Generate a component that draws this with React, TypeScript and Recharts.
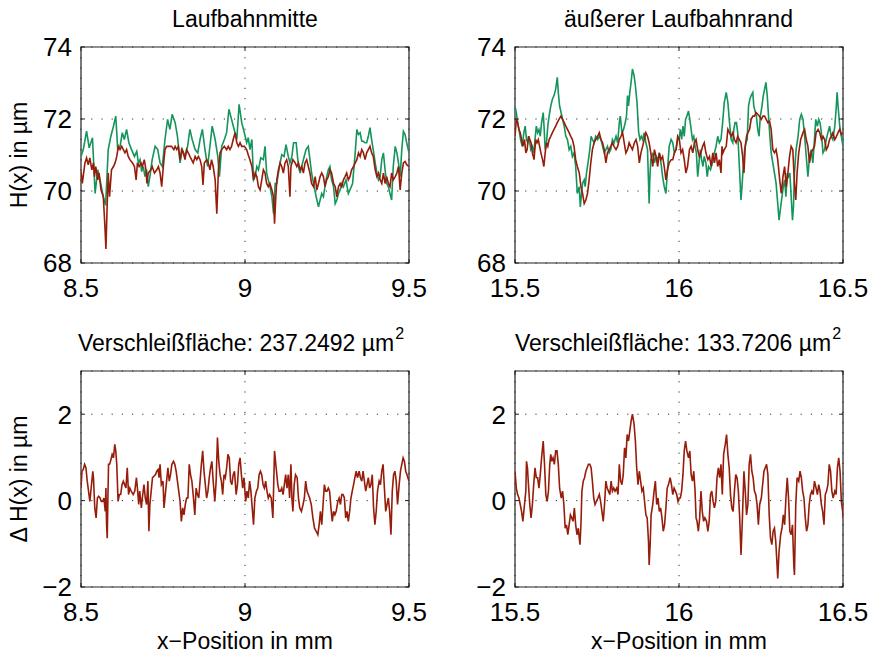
import React from "react";
import { LineChart, Line, XAxis, YAxis, CartesianGrid, ReferenceArea } from "recharts";

type Pt = [number, number];

// [x-Position in mm, H(x) in µm] – green: reference profile, red: worn profile
const midRef: Pt[] = [
  [8.5, 70.96], [8.507, 71.15], [8.517, 71.66], [8.525, 71.2], [8.535, 71.48], [8.543, 69.93], [8.551, 70.59], [8.558, 70.31],
  [8.568, 69.84], [8.575, 69.6], [8.583, 71.15], [8.591, 71.52], [8.599, 71.8], [8.606, 72.08], [8.612, 71.15], [8.619, 71.24],
  [8.626, 71.62], [8.632, 71.43], [8.639, 71.71], [8.646, 71.34], [8.654, 71.15], [8.663, 70.96], [8.67, 71.1], [8.675, 70.78],
  [8.68, 70.87], [8.685, 70.54], [8.69, 70.68], [8.695, 70.4], [8.7, 70.59], [8.705, 70.12], [8.71, 70.4], [8.717, 70.87],
  [8.726, 71.24], [8.734, 71.15], [8.741, 70.78], [8.748, 70.68], [8.756, 71.43], [8.764, 71.99], [8.771, 71.71], [8.778, 72.13],
  [8.787, 71.9], [8.794, 71.52], [8.802, 70.78], [8.809, 71.15], [8.817, 70.96], [8.825, 71.24], [8.832, 71.71], [8.839, 71.43],
  [8.848, 71.15], [8.856, 71.06], [8.863, 71.43], [8.87, 71.71], [8.878, 71.15], [8.886, 70.68], [8.893, 71.24], [8.9, 71.8],
  [8.909, 71.43], [8.917, 70.96], [8.922, 70.4], [8.929, 71.24], [8.937, 71.43], [8.944, 71.62], [8.951, 72.27], [8.959, 71.99],
  [8.967, 71.71], [8.975, 71.43], [8.982, 72.41], [8.99, 71.9], [8.998, 71.62], [9.005, 71.34], [9.01, 71.48], [9.015, 71.15],
  [9.021, 71.43], [9.026, 70.31], [9.031, 70.4], [9.036, 70.68], [9.041, 70.59], [9.048, 70.92], [9.056, 70.87], [9.061, 71.24],
  [9.066, 70.5], [9.071, 70.31], [9.076, 70.12], [9.082, 69.84], [9.087, 69.37], [9.092, 70.21], [9.097, 70.21], [9.105, 70.68],
  [9.112, 71.01], [9.119, 70.96], [9.125, 71.29], [9.132, 70.96], [9.137, 70.78], [9.143, 70.96], [9.148, 71.34], [9.156, 71.34],
  [9.163, 70.68], [9.168, 70.5], [9.178, 70.87], [9.186, 71.15], [9.193, 71.24], [9.198, 70.87], [9.203, 70.5], [9.209, 70.21],
  [9.217, 69.84], [9.224, 69.56], [9.229, 69.75], [9.234, 69.93], [9.239, 69.84], [9.247, 70.31], [9.254, 70.59], [9.259, 70.68],
  [9.264, 70.31], [9.27, 70.12], [9.275, 69.65], [9.28, 69.75], [9.285, 69.93], [9.29, 70.03], [9.295, 70.21], [9.3, 70.12],
  [9.308, 70.31], [9.315, 69.93], [9.32, 70.03], [9.328, 70.21], [9.336, 71.06], [9.341, 71.71], [9.346, 71.57], [9.351, 71.62],
  [9.356, 71.38], [9.361, 71.38], [9.366, 71.34], [9.371, 71.34], [9.376, 71.52], [9.381, 71.76], [9.386, 71.43], [9.391, 71.15],
  [9.397, 70.78], [9.402, 70.5], [9.407, 70.31], [9.412, 70.4], [9.417, 70.87], [9.422, 71.06], [9.427, 70.59], [9.432, 70.21],
  [9.437, 70.12], [9.442, 69.93], [9.447, 69.75], [9.452, 70.68], [9.458, 71.24], [9.463, 71.06], [9.468, 70.78], [9.473, 70.4],
  [9.478, 71.15], [9.483, 71.66], [9.488, 71.57], [9.493, 71.34], [9.5, 71.06],
];

const midWorn: Pt[] = [
  [8.5, 70.54], [8.504, 70.21], [8.512, 70.78], [8.517, 70.92], [8.522, 70.73], [8.527, 70.92], [8.533, 70.59], [8.538, 70.78],
  [8.541, 70.4], [8.545, 70.68], [8.551, 70.31], [8.555, 70.5], [8.561, 70.03], [8.568, 69.84], [8.573, 69.0], [8.576, 68.39],
  [8.579, 69.37], [8.583, 70.5], [8.587, 69.84], [8.593, 70.59], [8.599, 70.68], [8.604, 70.78], [8.609, 70.96], [8.614, 71.24],
  [8.619, 71.15], [8.624, 71.24], [8.629, 71.15], [8.634, 71.06], [8.639, 71.15], [8.644, 70.96], [8.649, 70.87], [8.657, 70.78],
  [8.663, 70.68], [8.668, 70.31], [8.672, 70.78], [8.677, 70.68], [8.683, 70.78], [8.687, 70.68], [8.693, 70.87], [8.698, 70.59],
  [8.701, 70.21], [8.705, 70.5], [8.713, 70.59], [8.717, 70.68], [8.724, 70.5], [8.731, 70.59], [8.736, 70.68], [8.741, 70.5],
  [8.746, 70.12], [8.751, 70.68], [8.756, 71.15], [8.761, 71.24], [8.768, 71.24], [8.776, 71.24], [8.783, 71.15], [8.787, 71.24],
  [8.792, 71.15], [8.797, 71.24], [8.802, 70.87], [8.807, 71.15], [8.812, 71.06], [8.817, 70.87], [8.822, 71.15], [8.827, 71.06],
  [8.832, 70.96], [8.837, 70.87], [8.842, 70.78], [8.848, 70.96], [8.853, 70.87], [8.858, 70.96], [8.863, 70.87], [8.868, 70.68],
  [8.872, 70.17], [8.876, 70.78], [8.883, 70.87], [8.888, 70.78], [8.893, 70.59], [8.898, 70.87], [8.903, 70.68], [8.909, 70.31],
  [8.914, 69.37], [8.919, 70.59], [8.924, 71.06], [8.929, 71.15], [8.937, 71.24], [8.944, 71.15], [8.949, 71.24], [8.954, 71.15],
  [8.959, 71.24], [8.964, 71.43], [8.97, 71.62], [8.975, 71.34], [8.98, 71.24], [8.985, 71.34], [8.99, 71.24], [8.998, 71.24],
  [9.005, 71.15], [9.01, 71.0], [9.015, 70.87], [9.021, 70.68], [9.026, 70.31], [9.031, 70.5], [9.036, 70.4], [9.041, 70.12],
  [9.046, 70.03], [9.051, 70.31], [9.056, 70.59], [9.061, 70.5], [9.066, 70.21], [9.071, 70.12], [9.076, 70.21], [9.082, 70.03],
  [9.087, 69.84], [9.09, 69.09], [9.094, 69.84], [9.097, 70.31], [9.102, 70.59], [9.107, 70.78], [9.112, 70.68], [9.117, 70.5],
  [9.122, 70.78], [9.127, 70.87], [9.132, 70.68], [9.137, 69.84], [9.14, 70.68], [9.146, 70.87], [9.153, 70.78], [9.158, 70.68],
  [9.163, 70.78], [9.168, 70.59], [9.173, 70.68], [9.178, 70.5], [9.183, 70.78], [9.188, 70.87], [9.193, 70.68], [9.198, 70.5],
  [9.203, 70.21], [9.209, 70.12], [9.214, 70.4], [9.219, 70.03], [9.224, 70.21], [9.229, 70.4], [9.234, 70.5], [9.239, 70.4],
  [9.244, 70.12], [9.249, 70.31], [9.254, 70.4], [9.259, 70.59], [9.264, 70.5], [9.27, 70.21], [9.275, 70.12], [9.28, 69.84],
  [9.285, 70.12], [9.29, 70.21], [9.295, 70.12], [9.3, 70.31], [9.305, 70.4], [9.31, 70.5], [9.315, 70.31], [9.32, 70.4],
  [9.325, 70.59], [9.331, 70.68], [9.336, 70.78], [9.341, 70.87], [9.346, 71.06], [9.351, 70.96], [9.356, 71.15], [9.361, 71.06],
  [9.366, 70.87], [9.371, 71.06], [9.376, 71.15], [9.381, 71.24], [9.386, 71.06], [9.391, 70.96], [9.397, 70.59], [9.402, 70.4],
  [9.407, 70.5], [9.412, 70.31], [9.417, 70.21], [9.422, 70.5], [9.427, 70.21], [9.432, 70.4], [9.437, 70.21], [9.442, 70.12],
  [9.447, 70.5], [9.452, 70.31], [9.458, 70.4], [9.463, 70.5], [9.468, 70.68], [9.473, 70.03], [9.478, 70.5], [9.483, 70.78],
  [9.488, 70.82], [9.493, 70.73], [9.5, 70.68],
];

const edgeRef: Pt[] = [
  [15.5, 72.36], [15.504, 72.18], [15.508, 71.9], [15.512, 71.71], [15.517, 71.43], [15.522, 71.24], [15.527, 71.62], [15.531, 71.8],
  [15.535, 71.43], [15.539, 71.34], [15.543, 71.52], [15.548, 71.15], [15.553, 71.24], [15.558, 71.06], [15.561, 71.43], [15.565, 71.8],
  [15.569, 71.62], [15.573, 71.71], [15.577, 71.52], [15.581, 71.9], [15.586, 72.18], [15.589, 71.71], [15.592, 71.15], [15.596, 71.34],
  [15.6, 71.8], [15.604, 72.08], [15.609, 72.36], [15.614, 72.55], [15.619, 72.65], [15.624, 72.83], [15.629, 73.16], [15.632, 72.74],
  [15.636, 72.36], [15.643, 72.08], [15.65, 71.8], [15.655, 71.52], [15.66, 71.43], [15.665, 71.15], [15.67, 71.24], [15.675, 70.96],
  [15.68, 71.06], [15.685, 70.68], [15.69, 69.93], [15.696, 70.12], [15.699, 69.56], [15.702, 69.84], [15.706, 70.21], [15.711, 70.31],
  [15.714, 70.12], [15.718, 70.5], [15.724, 70.87], [15.728, 71.15], [15.732, 71.52], [15.736, 71.43], [15.741, 71.34], [15.746, 71.52],
  [15.752, 71.43], [15.757, 71.52], [15.762, 71.43], [15.767, 71.24], [15.772, 71.06], [15.777, 71.15], [15.782, 71.24], [15.787, 71.06],
  [15.792, 71.15], [15.797, 71.43], [15.802, 71.34], [15.808, 71.52], [15.813, 71.34], [15.818, 71.9], [15.821, 72.08], [15.826, 71.62],
  [15.831, 71.71], [15.836, 71.9], [15.84, 72.08], [15.843, 72.65], [15.846, 72.36], [15.85, 72.74], [15.854, 73.02], [15.858, 73.39],
  [15.863, 73.21], [15.867, 72.93], [15.872, 72.46], [15.877, 71.62], [15.881, 71.43], [15.885, 71.52], [15.889, 71.43], [15.894, 71.62],
  [15.899, 71.34], [15.904, 71.15], [15.909, 69.65], [15.911, 70.31], [15.914, 70.87], [15.92, 71.06], [15.925, 70.78], [15.93, 70.96],
  [15.935, 70.87], [15.94, 71.06], [15.945, 70.78], [15.95, 70.4], [15.955, 70.12], [15.96, 69.93], [15.965, 70.59], [15.97, 71.24],
  [15.976, 71.43], [15.981, 71.34], [15.986, 71.06], [15.991, 71.15], [15.996, 71.43], [16.0, 71.43], [16.004, 71.71], [16.008, 71.43],
  [16.012, 71.8], [16.016, 71.52], [16.02, 71.99], [16.024, 72.08], [16.029, 72.22], [16.033, 71.99], [16.037, 71.71], [16.041, 71.43],
  [16.045, 71.52], [16.049, 71.24], [16.053, 71.06], [16.057, 70.4], [16.061, 70.78], [16.065, 71.15], [16.069, 70.87], [16.073, 70.68],
  [16.077, 70.96], [16.082, 70.78], [16.086, 70.4], [16.09, 70.68], [16.096, 70.59], [16.102, 70.78], [16.108, 71.06], [16.113, 71.24],
  [16.118, 71.52], [16.123, 71.34], [16.128, 71.43], [16.133, 71.9], [16.138, 72.46], [16.144, 72.74], [16.149, 72.46], [16.154, 71.9],
  [16.159, 71.43], [16.164, 71.34], [16.167, 71.71], [16.171, 71.9], [16.175, 71.9], [16.179, 71.62], [16.184, 70.68], [16.189, 69.75],
  [16.192, 70.12], [16.196, 70.68], [16.2, 71.15], [16.204, 71.34], [16.208, 71.43], [16.212, 72.36], [16.216, 72.55], [16.22, 72.65],
  [16.225, 72.74], [16.228, 72.36], [16.232, 72.22], [16.236, 72.08], [16.24, 71.71], [16.244, 71.52], [16.248, 72.08], [16.253, 72.36],
  [16.257, 72.65], [16.261, 72.83], [16.265, 73.02], [16.269, 72.65], [16.273, 72.08], [16.277, 71.52], [16.281, 71.06], [16.286, 70.78],
  [16.291, 70.5], [16.296, 70.21], [16.301, 69.65], [16.305, 69.19], [16.31, 69.56], [16.314, 69.84], [16.318, 70.12], [16.322, 70.31],
  [16.326, 69.84], [16.33, 70.5], [16.334, 70.4], [16.338, 70.5], [16.342, 69.84], [16.346, 69.19], [16.349, 69.56], [16.352, 70.5],
  [16.357, 71.15], [16.363, 71.52], [16.368, 71.99], [16.373, 72.13], [16.378, 71.99], [16.383, 71.52], [16.388, 70.96], [16.393, 70.4],
  [16.398, 70.96], [16.403, 71.15], [16.408, 70.78], [16.413, 71.43], [16.417, 71.99], [16.422, 71.8], [16.426, 71.99], [16.43, 71.9],
  [16.434, 71.62], [16.439, 71.06], [16.444, 71.15], [16.449, 71.43], [16.454, 71.62], [16.459, 71.8], [16.464, 71.52], [16.469, 71.43],
  [16.475, 71.8], [16.479, 72.27], [16.482, 72.74], [16.485, 72.36], [16.49, 71.8], [16.495, 71.52], [16.5, 71.24],
];

const edgeWorn: Pt[] = [
  [15.5, 71.52], [15.504, 71.99], [15.508, 71.9], [15.512, 71.71], [15.516, 71.62], [15.52, 71.43], [15.524, 71.24], [15.529, 71.43],
  [15.533, 71.06], [15.537, 71.15], [15.541, 71.52], [15.545, 71.43], [15.549, 71.34], [15.553, 71.06], [15.558, 70.87], [15.563, 71.43],
  [15.567, 71.34], [15.571, 71.43], [15.575, 71.24], [15.579, 71.06], [15.584, 70.87], [15.588, 70.68], [15.592, 71.06], [15.596, 71.34],
  [15.6, 71.24], [15.604, 71.43], [15.609, 71.52], [15.614, 71.62], [15.619, 71.71], [15.624, 71.8], [15.629, 71.9], [15.634, 71.99],
  [15.64, 72.08], [15.645, 71.99], [15.65, 71.9], [15.655, 71.8], [15.66, 71.71], [15.665, 71.62], [15.67, 71.52], [15.675, 71.43],
  [15.68, 71.24], [15.685, 70.87], [15.69, 70.68], [15.696, 70.5], [15.701, 70.12], [15.706, 69.93], [15.711, 69.65], [15.716, 69.75],
  [15.721, 69.93], [15.726, 70.31], [15.731, 70.78], [15.736, 71.15], [15.741, 71.34], [15.746, 71.43], [15.752, 71.52], [15.757, 71.62],
  [15.762, 71.43], [15.767, 71.34], [15.772, 71.15], [15.777, 70.78], [15.782, 71.06], [15.787, 71.15], [15.792, 71.24], [15.797, 71.34],
  [15.802, 71.24], [15.808, 71.15], [15.813, 71.24], [15.818, 71.43], [15.823, 71.52], [15.828, 71.62], [15.833, 71.34], [15.838, 71.06],
  [15.843, 71.15], [15.848, 71.34], [15.853, 71.24], [15.858, 71.15], [15.864, 71.34], [15.869, 71.43], [15.874, 71.24], [15.879, 70.78],
  [15.884, 71.06], [15.889, 71.24], [15.894, 71.43], [15.899, 71.62], [15.904, 71.52], [15.909, 71.34], [15.914, 71.06], [15.92, 70.68],
  [15.925, 71.15], [15.93, 70.96], [15.935, 70.68], [15.94, 71.06], [15.945, 70.87], [15.95, 70.96], [15.955, 70.68], [15.96, 70.31],
  [15.965, 70.59], [15.97, 70.78], [15.976, 70.87], [15.981, 70.87], [15.986, 71.06], [15.991, 71.15], [15.996, 71.52], [16.001, 71.43],
  [16.006, 71.06], [16.011, 71.15], [16.016, 70.87], [16.021, 70.5], [16.026, 70.68], [16.032, 71.15], [16.037, 71.24], [16.042, 71.06],
  [16.047, 71.34], [16.052, 71.43], [16.057, 71.15], [16.062, 70.96], [16.067, 71.06], [16.072, 71.24], [16.077, 71.34], [16.082, 71.06],
  [16.088, 70.87], [16.093, 70.96], [16.098, 70.68], [16.103, 71.06], [16.108, 70.78], [16.113, 71.06], [16.118, 70.68], [16.123, 70.87],
  [16.128, 70.5], [16.131, 71.24], [16.134, 71.06], [16.138, 71.15], [16.144, 71.24], [16.149, 71.71], [16.154, 71.62], [16.159, 71.52],
  [16.164, 71.62], [16.169, 71.43], [16.174, 71.34], [16.179, 71.52], [16.184, 71.43], [16.189, 71.34], [16.194, 70.96], [16.198, 70.5],
  [16.202, 71.24], [16.206, 71.52], [16.21, 71.62], [16.215, 71.71], [16.22, 71.99], [16.225, 72.08], [16.23, 72.08], [16.235, 72.18],
  [16.24, 72.13], [16.245, 72.08], [16.251, 71.99], [16.256, 72.08], [16.261, 72.08], [16.266, 71.99], [16.271, 71.9], [16.276, 71.94],
  [16.281, 71.71], [16.286, 71.15], [16.291, 71.06], [16.296, 71.15], [16.301, 70.87], [16.307, 70.31], [16.312, 69.93], [16.317, 70.4],
  [16.322, 70.68], [16.327, 70.12], [16.332, 70.5], [16.337, 70.96], [16.342, 71.24], [16.347, 71.15], [16.352, 70.21], [16.356, 69.75],
  [16.36, 70.5], [16.365, 71.06], [16.371, 71.43], [16.378, 71.62], [16.383, 71.71], [16.388, 71.43], [16.393, 71.24], [16.398, 70.78],
  [16.403, 71.06], [16.408, 71.15], [16.413, 71.24], [16.418, 71.62], [16.424, 71.71], [16.429, 71.62], [16.434, 71.43], [16.439, 71.52],
  [16.444, 71.43], [16.449, 71.15], [16.454, 71.24], [16.459, 71.43], [16.464, 71.52], [16.469, 71.62], [16.475, 71.43], [16.48, 71.52],
  [16.485, 71.62], [16.49, 71.71], [16.495, 71.57], [16.5, 71.62],
];

// ΔH(x) in µm
const midDiff: Pt[] = [
  [8.5, 0.29], [8.503, 0.68], [8.507, 0.72], [8.511, 0.84], [8.515, 0.76], [8.519, 0.45], [8.523, 0.22], [8.527, -0.02],
  [8.532, 0.37], [8.536, 0.68], [8.538, 0.53], [8.542, -0.17], [8.546, -0.4], [8.55, 0.06], [8.554, 0.1], [8.558, 0.06],
  [8.562, -0.02], [8.566, -0.02], [8.57, 0.06], [8.574, -0.25], [8.576, 0.29], [8.578, -0.56], [8.58, -0.87], [8.582, 0.06],
  [8.584, 0.84], [8.587, 0.84], [8.59, 0.91], [8.595, 1.07], [8.599, 0.99], [8.603, 1.3], [8.606, 1.15], [8.609, 0.84],
  [8.613, -0.02], [8.617, 0.14], [8.621, 0.14], [8.625, 0.37], [8.629, 0.45], [8.633, 0.37], [8.637, 0.29], [8.641, 0.76],
  [8.645, 0.14], [8.649, 0.29], [8.653, 0.22], [8.659, 0.14], [8.664, 0.22], [8.669, 0.53], [8.672, 0.29], [8.676, -0.09],
  [8.679, 0.22], [8.684, -0.17], [8.687, 0.06], [8.692, 0.37], [8.696, 0.06], [8.7, -0.09], [8.704, 0.45], [8.707, -0.71],
  [8.71, -0.09], [8.714, 0.22], [8.718, 0.53], [8.723, 0.57], [8.727, 0.6], [8.731, 0.68], [8.735, 0.72], [8.738, 0.53],
  [8.741, 0.84], [8.745, 0.37], [8.75, 0.45], [8.753, -0.17], [8.757, 0.14], [8.761, 0.45], [8.765, 0.76], [8.769, 0.45],
  [8.773, 0.6], [8.777, 0.84], [8.782, 0.91], [8.786, 0.84], [8.79, 0.68], [8.794, 0.45], [8.798, 0.22], [8.802, -0.02],
  [8.806, -0.48], [8.81, -0.17], [8.814, -0.33], [8.818, -0.09], [8.822, 0.06], [8.826, 0.06], [8.83, 0.84], [8.834, 0.6],
  [8.838, 0.45], [8.842, 0.14], [8.847, -0.33], [8.851, 0.29], [8.855, 0.14], [8.859, 0.06], [8.863, 0.45], [8.867, 0.84],
  [8.871, 1.15], [8.875, 0.68], [8.879, 0.37], [8.883, 0.06], [8.887, 0.22], [8.891, 0.53], [8.895, 0.76], [8.899, 0.91],
  [8.903, 0.45], [8.908, -0.02], [8.912, 0.45], [8.916, 1.46], [8.92, 0.91], [8.924, 0.6], [8.928, 0.45], [8.932, 0.14],
  [8.936, 0.6], [8.94, 0.53], [8.944, 0.76], [8.948, 1.07], [8.952, 0.99], [8.956, 0.45], [8.96, 0.37], [8.964, 0.6],
  [8.968, 0.68], [8.973, 0.14], [8.977, 0.37], [8.981, 0.84], [8.985, 0.99], [8.989, 0.6], [8.993, 0.29], [8.997, 0.53],
  [9.002, -0.02], [9.006, 0.22], [9.01, 0.06], [9.014, 0.45], [9.018, 0.22], [9.022, -0.17], [9.026, -0.56], [9.03, 0.06],
  [9.035, 0.22], [9.039, 0.29], [9.043, 0.6], [9.047, 0.68], [9.051, 0.6], [9.055, 0.37], [9.059, 0.29], [9.063, 0.45],
  [9.067, 0.22], [9.071, 0.06], [9.075, 0.14], [9.08, 0.06], [9.085, -0.4], [9.09, 1.15], [9.096, 0.68], [9.1, 0.37],
  [9.104, 0.22], [9.108, 0.22], [9.112, 0.29], [9.116, 0.14], [9.12, 0.37], [9.124, 0.6], [9.128, 0.29], [9.132, 0.6],
  [9.136, 0.06], [9.14, 0.84], [9.143, 0.06], [9.146, -0.25], [9.15, 0.37], [9.154, 0.6], [9.159, 0.53], [9.163, 0.06],
  [9.167, -0.17], [9.172, -0.25], [9.177, -0.09], [9.181, 0.06], [9.185, 0.45], [9.189, 0.22], [9.193, 0.14], [9.197, 0.06],
  [9.202, -0.09], [9.207, -0.4], [9.212, -0.64], [9.217, -0.71], [9.222, -0.79], [9.226, -0.56], [9.23, -0.25], [9.234, -0.56],
  [9.238, -0.09], [9.242, 0.37], [9.246, 0.22], [9.25, 0.22], [9.254, 0.29], [9.258, 0.22], [9.262, -0.17], [9.266, -0.48],
  [9.27, -0.25], [9.274, -0.33], [9.278, -0.25], [9.283, -0.02], [9.287, 0.06], [9.291, -0.09], [9.295, 0.14], [9.299, 0.14],
  [9.303, 0.06], [9.307, -0.4], [9.311, -0.25], [9.315, -0.48], [9.319, -0.25], [9.323, 0.06], [9.327, 0.22], [9.331, 0.37],
  [9.335, 0.53], [9.339, 0.68], [9.343, 0.53], [9.348, 0.68], [9.352, 0.53], [9.356, 0.45], [9.36, 0.68], [9.364, 0.45],
  [9.368, 0.22], [9.372, 0.37], [9.376, 0.53], [9.38, 0.29], [9.384, 0.37], [9.388, 0.6], [9.392, -0.17], [9.396, -0.56],
  [9.4, -0.25], [9.404, 0.22], [9.409, 0.45], [9.413, 0.37], [9.417, 0.68], [9.421, 0.84], [9.425, 0.29], [9.429, -0.25],
  [9.433, -0.09], [9.437, 0.06], [9.441, -0.25], [9.445, -0.79], [9.449, 0.22], [9.453, 0.6], [9.457, 0.68], [9.461, 0.45],
  [9.465, -0.09], [9.47, 0.37], [9.474, 0.68], [9.478, 0.84], [9.482, 0.99], [9.486, 0.91], [9.49, 0.68], [9.494, 0.6],
  [9.5, 0.45],
];

const edgeDiff: Pt[] = [
  [15.5, 0.68], [15.504, 0.29], [15.508, 0.14], [15.512, 0.06], [15.516, -0.09], [15.52, -0.25], [15.524, -0.48], [15.529, -0.09],
  [15.533, 0.22], [15.535, 0.91], [15.538, 0.76], [15.541, 0.37], [15.545, -0.09], [15.549, -0.4], [15.553, -0.09], [15.557, 0.37],
  [15.561, 0.76], [15.565, 0.53], [15.569, 0.53], [15.573, 0.29], [15.577, 0.6], [15.581, 0.99], [15.586, 1.38], [15.59, 0.84],
  [15.594, 0.14], [15.598, -0.02], [15.602, 0.22], [15.606, 0.84], [15.609, 1.07], [15.612, 0.91], [15.616, 0.99], [15.62, 0.84],
  [15.624, 1.15], [15.628, 1.15], [15.632, 0.84], [15.636, 0.29], [15.641, 0.06], [15.645, 0.22], [15.649, -0.09], [15.653, -0.64],
  [15.657, -0.56], [15.661, -0.79], [15.665, -0.56], [15.669, -0.33], [15.673, -0.4], [15.677, -0.48], [15.681, -0.17], [15.685, -0.56],
  [15.689, -0.79], [15.693, -0.64], [15.698, -1.02], [15.701, -0.56], [15.704, 0.22], [15.708, 0.45], [15.712, 0.53], [15.716, 0.68],
  [15.72, 0.76], [15.724, 0.84], [15.728, 0.84], [15.732, 0.76], [15.736, 0.45], [15.74, 0.06], [15.744, -0.09], [15.748, -0.02],
  [15.753, 0.06], [15.757, 0.14], [15.761, -0.02], [15.765, -0.25], [15.769, -0.48], [15.773, -0.09], [15.777, 0.45], [15.781, 0.29],
  [15.785, 0.22], [15.789, 0.14], [15.793, 0.45], [15.797, 0.22], [15.801, 0.29], [15.805, 0.22], [15.81, 0.29], [15.814, 0.14],
  [15.818, 0.84], [15.822, 0.45], [15.826, 0.37], [15.83, 0.6], [15.834, 1.22], [15.838, 0.99], [15.842, 1.53], [15.846, 1.38],
  [15.85, 1.61], [15.854, 1.84], [15.858, 2.0], [15.863, 1.77], [15.867, 1.38], [15.871, 0.76], [15.875, 0.37], [15.879, 0.68],
  [15.883, 0.45], [15.887, 0.22], [15.891, 0.29], [15.895, -0.02], [15.899, -0.33], [15.903, -0.4], [15.907, -0.95], [15.909, -1.49],
  [15.912, -1.02], [15.915, -0.33], [15.92, -0.09], [15.924, 0.22], [15.928, 0.45], [15.932, -0.09], [15.936, 0.06], [15.94, -0.25],
  [15.944, -0.17], [15.948, -0.4], [15.952, -0.71], [15.956, -0.56], [15.96, -0.17], [15.964, 0.29], [15.968, 0.37], [15.973, 0.53],
  [15.977, 0.37], [15.981, 0.14], [15.985, 0.29], [15.989, 0.22], [15.993, 0.14], [15.997, -0.02], [16.001, 0.06], [16.004, 0.06],
  [16.008, 0.22], [16.012, 0.6], [16.016, 1.15], [16.02, 1.38], [16.024, 1.15], [16.029, 0.99], [16.033, 1.15], [16.037, 0.6],
  [16.041, 0.45], [16.045, 0.68], [16.049, 0.22], [16.052, -0.4], [16.055, -0.48], [16.059, -0.71], [16.063, -0.4], [16.067, 0.22],
  [16.071, -0.25], [16.075, -0.48], [16.079, -0.4], [16.084, -0.48], [16.088, -0.71], [16.092, -0.48], [16.096, 0.14], [16.1, 0.22],
  [16.104, -0.02], [16.108, -0.17], [16.112, -0.02], [16.116, 0.53], [16.12, 0.76], [16.124, 0.53], [16.128, 0.84], [16.132, 0.14],
  [16.136, 1.07], [16.141, 1.3], [16.145, 1.53], [16.149, 1.07], [16.153, 0.76], [16.157, 0.14], [16.161, -0.17], [16.165, -0.25],
  [16.169, 0.22], [16.173, 0.6], [16.177, 0.53], [16.181, 0.22], [16.185, -0.4], [16.189, -1.26], [16.193, -0.48], [16.198, 0.68],
  [16.202, 0.22], [16.206, -0.33], [16.21, -0.09], [16.214, 0.84], [16.218, 1.07], [16.222, 0.68], [16.226, 0.53], [16.23, 0.22],
  [16.234, 0.14], [16.238, -0.09], [16.242, -0.56], [16.246, -0.09], [16.251, 0.06], [16.255, 0.37], [16.259, 0.68], [16.263, 0.76],
  [16.267, 0.84], [16.271, 0.6], [16.275, -0.33], [16.279, -0.87], [16.283, -1.02], [16.287, -0.71], [16.291, -0.64], [16.295, -0.95],
  [16.299, -1.49], [16.301, -1.8], [16.305, -1.18], [16.31, -0.79], [16.314, -0.64], [16.318, -0.33], [16.322, -0.56], [16.326, 0.06],
  [16.33, 0.53], [16.334, 0.06], [16.338, -0.71], [16.342, -0.79], [16.346, -0.56], [16.35, -1.49], [16.352, -1.72], [16.356, -0.09],
  [16.36, 0.53], [16.365, 0.45], [16.369, 0.68], [16.373, 0.53], [16.377, 0.22], [16.381, 0.06], [16.385, -0.4], [16.389, -0.71],
  [16.393, -0.56], [16.397, -0.09], [16.401, 0.14], [16.405, 0.22], [16.409, 0.14], [16.413, 0.45], [16.418, 0.29], [16.422, 0.14],
  [16.426, 0.37], [16.43, 0.22], [16.434, -0.09], [16.438, -0.25], [16.442, -0.56], [16.446, 0.14], [16.45, 0.22], [16.454, 0.37],
  [16.458, 0.84], [16.462, 0.68], [16.466, 0.22], [16.47, 0.06], [16.475, 0.22], [16.479, 0.14], [16.483, 0.76], [16.487, 0.99],
  [16.491, 0.68], [16.495, -0.02], [16.499, -0.25], [16.5, -0.4],
];

const midTicks = [8.5, 9, 9.5];
const edgeTicks = [15.5, 16, 16.5];
const heightTicks = [68, 70, 72, 74];
const diffTicks = [-2, 0, 2];
const wearAreas = ["237.2492", "133.7206"];

const GREEN = "#13955b";
const RED = "#971d0b";
const FONT = '"Liberation Sans", Arial, Helvetica, sans-serif';

const PLOT_W = 328;
const PLOT_H = 216;
const Y_AXIS_W = 80;
const X_AXIS_H = 45;
const M_TOP = 15;
const M_RIGHT = 36;
const X_GAP = 16;
const Y_GAP = 9;
const TICK = 4;

const fmt = (v: number) => String(v).replace("-", "\u2212");

// matlab style: inward ticks on both sides of the box
const XTick = (props: any) => {
  const { x, y, payload } = props;
  const axisY = y - X_GAP;
  return (
    <g>
      <line x1={x} x2={x} y1={axisY} y2={axisY - TICK} stroke="#222" />
      <line x1={x} x2={x} y1={axisY - PLOT_H} y2={axisY - PLOT_H + TICK} stroke="#222" />
      <text x={x} y={y} dy="0.71em" textAnchor="middle" fontSize={26} fill="#000" fontFamily={FONT}>
        {fmt(payload.value)}
      </text>
    </g>
  );
};

const YTick = (props: any) => {
  const { x, y, payload } = props;
  const axisX = x + Y_GAP;
  return (
    <g>
      <line x1={axisX} x2={axisX + TICK} y1={y} y2={y} stroke="#222" />
      <line x1={axisX + PLOT_W} x2={axisX + PLOT_W - TICK} y1={y} y2={y} stroke="#222" />
      <text x={x} y={y} dy="0.36em" textAnchor="end" fontSize={26} fill="#000" fontFamily={FONT}>
        {fmt(payload.value)}
      </text>
    </g>
  );
};

type Series = { data: Pt[]; color: string };

interface PanelProps {
  left: number;
  top: number;
  xDomain: [number, number];
  xTicks: number[];
  yDomain: [number, number];
  yTicks: number[];
  series: Series[];
}

const Panel = ({ left, top, xDomain, xTicks, yDomain, yTicks, series }: PanelProps) => (
  <div style={{ position: "absolute", left: left - Y_AXIS_W, top: top - M_TOP }}>
    <LineChart
      width={Y_AXIS_W + PLOT_W + M_RIGHT}
      height={M_TOP + PLOT_H + X_AXIS_H}
      margin={{ top: M_TOP, right: M_RIGHT, bottom: 0, left: 0 }}
    >
      <CartesianGrid stroke="#333" strokeDasharray="1.2 9" />
      <XAxis
        type="number"
        dataKey="x"
        domain={xDomain}
        ticks={xTicks}
        interval={0}
        height={X_AXIS_H}
        axisLine={false}
        tickLine={false}
        tickSize={0}
        tickMargin={X_GAP}
        tick={<XTick />}
        allowDataOverflow
      />
      <YAxis
        type="number"
        domain={yDomain}
        ticks={yTicks}
        interval={0}
        width={Y_AXIS_W}
        axisLine={false}
        tickLine={false}
        tickSize={0}
        tickMargin={Y_GAP}
        tick={<YTick />}
        allowDataOverflow
      />
      {series.map((s, i) => (
        <Line
          key={i}
          data={s.data.map(([x, y]) => ({ x, y }))}
          dataKey="y"
          type="linear"
          stroke={s.color}
          strokeWidth={1.6}
          dot={false}
          activeDot={false}
          isAnimationActive={false}
        />
      ))}
      <ReferenceArea
        x1={xDomain[0]}
        x2={xDomain[1]}
        y1={yDomain[0]}
        y2={yDomain[1]}
        fill="none"
        stroke="#222"
        strokeWidth={1.2}
      />
    </LineChart>
  </div>
);

export default function App() {
  return (
    <div
      style={{
        position: "absolute",
        left: 0,
        top: 0,
        width: 874,
        height: 653,
        background: "#fff",
        fontFamily: FONT,
        overflow: "hidden",
      }}
    >
      <Panel left={81} top={47} xDomain={[8.5, 9.5]} xTicks={midTicks} yDomain={[68, 74]} yTicks={heightTicks}
        series={[{ data: midRef, color: GREEN }, { data: midWorn, color: RED }]} />
      <Panel left={515} top={47} xDomain={[15.5, 16.5]} xTicks={edgeTicks} yDomain={[68, 74]} yTicks={heightTicks}
        series={[{ data: edgeRef, color: GREEN }, { data: edgeWorn, color: RED }]} />
      <Panel left={81} top={371} xDomain={[8.5, 9.5]} xTicks={midTicks} yDomain={[-2, 3]} yTicks={diffTicks}
        series={[{ data: midDiff, color: RED }]} />
      <Panel left={515} top={371} xDomain={[15.5, 16.5]} xTicks={edgeTicks} yDomain={[-2, 3]} yTicks={diffTicks}
        series={[{ data: edgeDiff, color: RED }]} />

      <svg width={874} height={653} style={{ position: "absolute", left: 0, top: 0 }} fontFamily={FONT} fill="#000">
        <text x={245} y={27} textAnchor="middle" fontSize={23}>Laufbahnmitte</text>
        <text x={678.5} y={27} textAnchor="middle" fontSize={23}>äußerer Laufbahnrand</text>
        <text x={241} y={351} textAnchor="middle" fontSize={23}>
          Verschleißfläche: {wearAreas[0]} µm<tspan dx={1} dy={-12} fontSize={16}>2</tspan>
        </text>
        <text x={678} y={351} textAnchor="middle" fontSize={23}>
          Verschleißfläche: {wearAreas[1]} µm<tspan dx={1} dy={-12} fontSize={16}>2</tspan>
        </text>
        <text transform="translate(27,155) rotate(-90)" textAnchor="middle" fontSize={23}>H(x) in µm</text>
        <text transform="translate(27,479) rotate(-90)" textAnchor="middle" fontSize={23}>Δ H(x) in µm</text>
        <text x={245} y={649} textAnchor="middle" fontSize={23}>x−Position in mm</text>
        <text x={679} y={649} textAnchor="middle" fontSize={23}>x−Position in mm</text>
      </svg>
    </div>
  );
}
